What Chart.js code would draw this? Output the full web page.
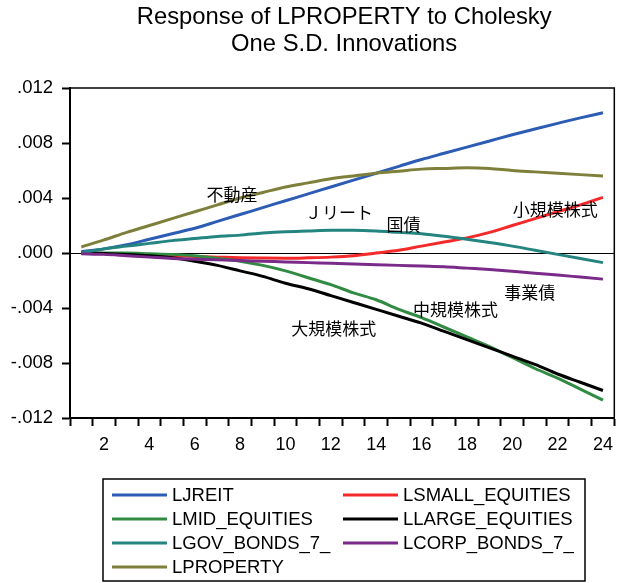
<!DOCTYPE html>
<html>
<head>
<meta charset="utf-8">
<script src="https://cdn.jsdelivr.net/npm/chart.js@4/dist/chart.umd.min.js"></script>
<style>
  html, body { margin: 0; padding: 0; background: #fff; }
  #wrap { width: 621px; height: 583px; }
</style>
</head>
<body>
<div id="wrap"><canvas id="irfChart" width="621" height="583"></canvas></div>
<script>
const periods = [1, 2, 3, 4, 5, 6, 7, 8, 9, 10, 11, 12, 13, 14, 15, 16, 17, 18, 19, 20, 21, 22, 23, 24];

const ljreit = [0.0001, 0.0003, 0.0006, 0.0010, 0.0014, 0.0018, 0.0023, 0.0028, 0.0033, 0.0038, 0.0043, 0.0048,
    0.0053, 0.0058, 0.0063, 0.0068, 0.00725, 0.0077, 0.00815, 0.0086, 0.00902, 0.00943, 0.00983, 0.0102];
const lsmall = [0, -0.00005, -0.0001, -0.00015, -0.0002, -0.00025, -0.0003, -0.00035, -0.00037, -0.00038, -0.00035, -0.0003,
    -0.0002, 0.0000, 0.0002, 0.0005, 0.0008, 0.0011, 0.0015, 0.0020, 0.0025, 0.0030, 0.0035, 0.00405];
const lmid = [0, 0, 0, -0.00005, -0.0001, -0.0002, -0.0004, -0.0006, -0.0009, -0.0013, -0.0018, -0.0023,
    -0.0029, -0.0034, -0.0041, -0.0047, -0.0054, -0.0061, -0.0068, -0.0076, -0.0084, -0.0091, -0.0099, -0.0107];
const llarge = [0, -0.00003, -0.0001, -0.0002, -0.00035, -0.0006, -0.0009, -0.0013, -0.0017, -0.0022, -0.0026, -0.0031,
    -0.0036, -0.0041, -0.0046, -0.0051, -0.0057, -0.0063, -0.0069, -0.0075, -0.0081, -0.0088, -0.0094, -0.0100];
const lgov = [0, 0.0003, 0.0005, 0.0007, 0.0009, 0.00105, 0.0012, 0.0013, 0.00145, 0.00155, 0.0016, 0.00165,
    0.00165, 0.0016, 0.0015, 0.0014, 0.00122, 0.0010, 0.00076, 0.0005, 0.0002, -0.0001, -0.0004, -0.0007];
const lcorp = [-0.00005, -0.0001, -0.0002, -0.0003, -0.0004, -0.00045, -0.0005, -0.00055, -0.0006, -0.00065, -0.0007, -0.00075,
    -0.0008, -0.00085, -0.0009, -0.00095, -0.0010, -0.0011, -0.0012, -0.00133, -0.00147, -0.0016, -0.00175, -0.0019];
const lproperty = [0.00044, 0.00095, 0.0015, 0.0020, 0.0025, 0.0030, 0.0035, 0.0040, 0.0044, 0.0048, 0.0051, 0.0054,
    0.0056, 0.0058, 0.00595, 0.0061, 0.00615, 0.0062, 0.00615, 0.0060, 0.0059, 0.0058, 0.0057, 0.0056];

const seriesNames = ['LJREIT', 'LSMALL_EQUITIES', 'LMID_EQUITIES', 'LLARGE_EQUITIES', 'LGOV_BONDS_7_', 'LCORP_BONDS_7_', 'LPROPERTY'];
const seriesData = [ljreit, lsmall, lmid, llarge, lgov, lcorp, lproperty];
const seriesColors = ['#2c5cb4', '#f42a2a', '#318b43', '#000000', '#248480', '#7a2a88', '#7f7f3c'];

const titleLines = ['Response of LPROPERTY to Cholesky', 'One S.D. Innovations'];

// in-plot labels (Japanese names), placed in data units
const noteText = ['不動産', 'Ｊリート', '国債', '小規模株式', '事業債', '中規模株式', '大規模株式'];
const notePeriod = [7.64, 12.36, 15.2, 21.9, 20.77, 17.5, 12.13];
const noteValue = [0.00424, 0.00293, 0.00206, 0.00315, -0.00291, -0.00412, -0.00553];

const FONT = '"Liberation Sans", Arial, sans-serif';

const decorPlugin = {
    id: 'decor',
    afterDraw(chart) {
        const ctx = chart.ctx;
        const area = chart.chartArea;
        const xs = chart.scales.x, ys = chart.scales.y;
        ctx.save();

        // frame top / right
        ctx.strokeStyle = '#000';
        ctx.lineWidth = 1.5;
        ctx.beginPath();
        ctx.moveTo(area.left, area.top);
        ctx.lineTo(area.right, area.top);
        ctx.lineTo(area.right, area.bottom);
        ctx.stroke();

        // title
        ctx.fillStyle = '#000';
        ctx.font = '23.8px ' + FONT;
        ctx.textAlign = 'center';
        ctx.textBaseline = 'alphabetic';
        const cx = (area.left + area.right) / 2 + 2;
        ctx.fillText(titleLines[0], cx, 24);
        ctx.fillText(titleLines[1], cx, 51);

        // annotations
        ctx.font = '17px "Noto Sans CJK JP", sans-serif';
        ctx.textBaseline = 'middle';
        noteText.forEach((t, i) => {
            ctx.fillText(t, xs.getPixelForValue(notePeriod[i] - 1), ys.getPixelForValue(noteValue[i]));
        });

        // legend box
        const bx = 103, by = 479, bw = 482, bh = 102;
        ctx.lineWidth = 1.5;
        ctx.strokeRect(bx, by, bw, bh);
        ctx.font = '18.5px ' + FONT;
        ctx.textAlign = 'left';
        const colX = [112, 343];
        const rowY = [495, 519, 543, 567];
        chart.data.datasets.forEach((ds, i) => {
            const x = colX[i % 2], y = rowY[Math.floor(i / 2)];
            ctx.strokeStyle = ds.borderColor;
            ctx.lineWidth = 3;
            ctx.beginPath();
            ctx.moveTo(x, y);
            ctx.lineTo(x + 55, y);
            ctx.stroke();
            ctx.fillStyle = '#000';
            ctx.fillText(ds.label, x + 60, y + 1);
        });
        ctx.restore();
    }
};

new Chart(document.getElementById('irfChart').getContext('2d'), {
    type: 'line',
    data: {
        labels: periods,
        datasets: seriesNames.map((name, i) => ({
            label: name,
            data: seriesData[i],
            borderColor: seriesColors[i],
            backgroundColor: seriesColors[i],
            borderWidth: 3,
            pointRadius: 0,
            cubicInterpolationMode: 'monotone',
            fill: false,
            order: 10 - i
        }))
    },
    options: {
        responsive: false,
        animation: false,
        layout: { padding: { top: 88, right: 1, bottom: 125, left: 0 } },
        plugins: {
            legend: { display: false },
            title: { display: false },
            tooltip: { enabled: false }
        },
        scales: {
            x: {
                type: 'category',
                offset: true,
                afterFit: (scale) => { scale.height = 40; },
                grid: {
                    offset: true,
                    drawOnChartArea: false,
                    drawTicks: true,
                    tickLength: 8,
                    tickWidth: 2,
                    tickColor: '#000',
                    color: '#000'
                },
                border: { display: true, color: '#000', width: 2 },
                ticks: {
                    autoSkip: false,
                    maxRotation: 0,
                    padding: 8,
                    color: '#000',
                    font: { family: FONT, size: 18 },
                    callback: (v, i) => (periods[i] % 2 === 0 ? String(periods[i]) : '')
                }
            },
            y: {
                min: -0.012,
                max: 0.012,
                afterFit: (scale) => { scale.width = 70; },
                grid: {
                    drawOnChartArea: true,
                    drawTicks: true,
                    tickLength: 8,
                    tickWidth: 2,
                    tickColor: '#000',
                    lineWidth: 1,
                    color: (c) => (c.tick && Math.abs(c.tick.value) < 1e-9 ? '#000' : 'rgba(0,0,0,0)')
                },
                border: { display: true, color: '#000', width: 2 },
                ticks: {
                    stepSize: 0.004,
                    padding: 9,
                    color: '#000',
                    font: { family: FONT, size: 18.5 },
                    callback: (v) => {
                        const s = Number(v).toFixed(3);
                        return s.replace(/^(-?)0\./, '$1.');
                    }
                }
            }
        }
    },
    plugins: [decorPlugin]
});
</script>
</body>
</html>
